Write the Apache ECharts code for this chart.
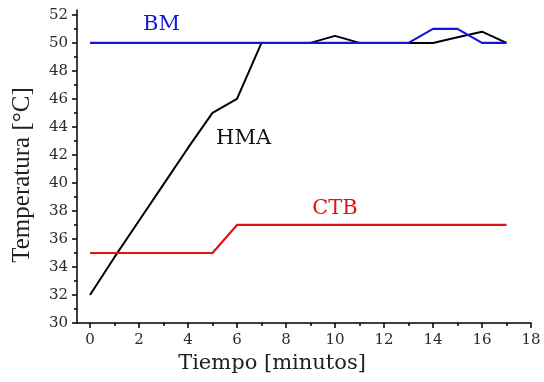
<!DOCTYPE html>
<html><head><meta charset="utf-8">
<script src="https://cdn.jsdelivr.net/npm/echarts@6/dist/echarts.min.js"></script>
<style>html,body{margin:0;padding:0;background:#fff}#c{width:544px;height:382px}</style>
</head><body><div id="c"></div>
<script>
const minutes = [0,1,2,3,4,5,6,7,8,9,10,11,12,13,14,15,16,17];
const hma = [32,34.7,37.3,39.9,42.5,45,46,50,50,50,50.5,50,50,50,50,50.4,50.8,50];
const bm  = [50,50,50,50,50,50,50,50,50,50,50,50,50,50,51,51,50,50];
const ctb = [35,35,35,35,35,35,37,37,37,37,37,37,37,37,37,37,37,37];
const xMajor = [0,2,4,6,8,10,12,14,16,18];
const xMinor = [1,3,5,7,9,11,13,15,17];
const yMajor = [30,32,34,36,38,40,42,44,46,48,50,52];
const yMinor = [31,33,35,37,39,41,43,45,47,49,51];

const SERIF_W = '"DejaVu Serif","Liberation Serif",serif';
const SERIF = '"Liberation Serif","DejaVu Serif",serif';
const pair = (xs, ys) => xs.map((x,i)=>[x, ys[i]]);
const X_MIN = -0.53, X_MAX = 18, Y_MIN = 30, Y_MAX = 52.35;

function lbl(text, color, coord){
  return {coord, symbol:'circle', symbolSize:1, itemStyle:{color:'rgba(0,0,0,0)'},
    label:{show:true, formatter:text, color, fontFamily:SERIF_W, fontSize:21, position:'inside'}};
}

const chart = echarts.init(document.getElementById('c'));
chart.setOption({
  animation:false,
  grid:{left:77, right:13, top:10, bottom:59, containLabel:false},
  xAxis:[{
    type:'value', min:X_MIN, max:X_MAX,
    name:'Tiempo [minutos]', nameLocation:'middle', nameGap:30,
    nameTextStyle:{fontFamily:SERIF_W, fontSize:21, color:'#222', padding:[0,64,0,0]},
    axisLine:{show:true, onZero:false, lineStyle:{color:'#000', width:1.5}},
    axisTick:{show:true, inside:false, length:5, customValues:xMajor, lineStyle:{color:'#000', width:1.5}},
    axisLabel:{customValues:xMajor, fontFamily:SERIF_W, fontSize:15, color:'#2a2a2a', margin:10},
    splitLine:{show:false}
  },{
    type:'value', min:X_MIN, max:X_MAX, position:'bottom',
    axisLine:{show:false, onZero:false},
    axisTick:{show:true, length:3, customValues:xMinor, lineStyle:{color:'#000', width:1.5}},
    axisLabel:{show:false}, splitLine:{show:false}
  },{
    type:'value', min:0, max:1, show:false
  }],
  yAxis:[{
    type:'value', min:Y_MIN, max:Y_MAX, position:'left',
    name:'Temperatura [°C]', nameLocation:'middle', nameGap:42, nameRotate:90,
    nameTextStyle:{fontFamily:SERIF, fontSize:25, color:'#222', padding:[0,17,0,0]},
    axisLine:{show:true, onZero:true, onZeroAxisIndex:2, lineStyle:{color:'#000', width:1.5}},
    axisTick:{show:true, inside:false, length:5, customValues:yMajor, lineStyle:{color:'#000', width:1.5}},
    axisLabel:{customValues:yMajor, fontFamily:SERIF_W, fontSize:15, color:'#2a2a2a', margin:9},
    splitLine:{show:false}
  },{
    type:'value', min:Y_MIN, max:Y_MAX, position:'left',
    axisLine:{show:false, onZero:true, onZeroAxisIndex:2},
    axisTick:{show:true, inside:false, length:3, customValues:yMinor, lineStyle:{color:'#000', width:1.5}},
    axisLabel:{show:false}, splitLine:{show:false}
  }],
  series:[
    {name:'HMA', type:'line', data:pair(minutes,hma), showSymbol:false, symbol:'none',
     lineStyle:{color:'#000', width:2}, itemStyle:{color:'#000'},
     markPoint:{data:[lbl('HMA','#111',[6.27,43.15])]}},
    {name:'BM', type:'line', data:pair(minutes,bm), showSymbol:false, symbol:'none',
     lineStyle:{color:'#1414dc', width:2.2}, itemStyle:{color:'#1414dc'},
     markPoint:{data:[lbl('BM','#1414dc',[2.92,51.3])]}},
    {name:'CTB', type:'line', data:pair(minutes,ctb), showSymbol:false, symbol:'none',
     lineStyle:{color:'#e01414', width:2.2}, itemStyle:{color:'#e01414'},
     markPoint:{data:[lbl('CTB','#e01414',[10.0,38.15])]}}
  ]
});
</script></body></html>
